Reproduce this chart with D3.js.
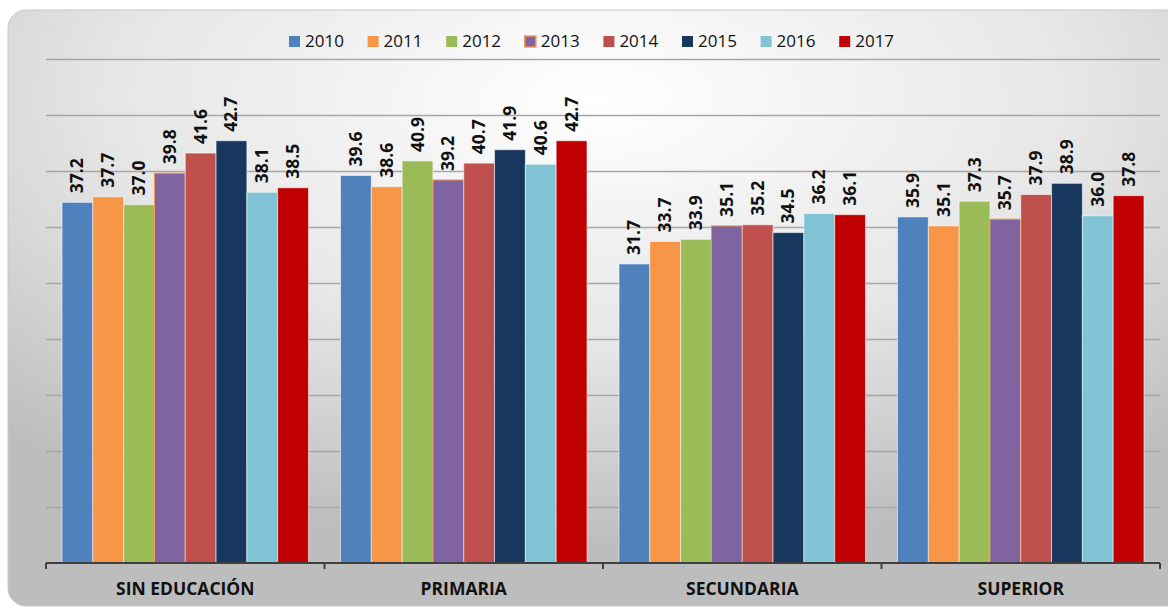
<!DOCTYPE html>
<html>
<head>
<meta charset="utf-8">
<script src="https://cdnjs.cloudflare.com/ajax/libs/d3/7.8.5/d3.min.js"></script>
<style>
body { margin:0; background:#fff; }
svg { display:block; font-family:"Open Sans", Lato, sans-serif; }
</style>
</head>
<body>
<svg id="chart"></svg>
<script>
var categories = ["SIN EDUCACIÓN","PRIMARIA","SECUNDARIA","SUPERIOR"]
var years = ["2010","2011","2012","2013","2014","2015","2016","2017"]
var colors = ["#4F81BD","#F79646","#9BBB59","#8064A2","#C0504D","#17375E","#7FC3D5","#C00000"]
var sinEducacion = [37.2,37.7,37.0,39.8,41.6,42.7,38.1,38.5]
var primaria = [39.6,38.6,40.9,39.2,40.7,41.9,40.6,42.7]
var secundaria = [31.7,33.7,33.9,35.1,35.2,34.5,36.2,36.1]
var superior = [35.9,35.1,37.3,35.7,37.9,38.9,36.0,37.8]
var yTicks = [5,10,15,20,25,30,35,40,45,50]

var seriesByCat = [sinEducacion,primaria,secundaria,superior]

var width = 1168, height = 614
var margins = {top:59, bottom:51, left:46, right:8}

var svg = d3.select("#chart")
    .attr("width",width)
    .attr("height",height)

// panel background
var defs = svg.append("defs")
var grad = defs.append("radialGradient")
    .attr("id","bg")
    .attr("cx","50%").attr("cy","15%").attr("r","75%")
grad.append("stop").attr("offset","0%").attr("stop-color","#ffffff")
grad.append("stop").attr("offset","55%").attr("stop-color","#e6e6e6")
grad.append("stop").attr("offset","100%").attr("stop-color","#bdbdbd")

svg.append("rect")
    .attr("x",8).attr("y",10)
    .attr("width",1180).attr("height",596)
    .attr("rx",18).attr("ry",18)
    .attr("fill","url(#bg)")
    .attr("stroke","#c8c8c8")

var xScale = d3.scaleBand()
    .domain(categories)
    .range([margins.left,width-margins.right])

var yScale = d3.scaleLinear()
    .domain([5,50])
    .range([height-margins.bottom,margins.top])

var inner = d3.scaleBand()
    .domain(years)
    .range([0,xScale.bandwidth()])
    .paddingOuter(0.52)

// gridlines
svg.append("g")
    .selectAll("line")
    .data(yTicks.slice(1))
    .enter()
    .append("line")
    .attr("x1",margins.left)
    .attr("x2",width-margins.right)
    .attr("y1",function(d){return yScale(d)+0.5})
    .attr("y2",function(d){return yScale(d)+0.5})
    .attr("stroke","#a6a6a6")
    .attr("stroke-width",1.5)

// bars
var groups = svg.append("g")
    .selectAll("g")
    .data(categories)
    .enter()
    .append("g")
    .attr("transform",function(c){return "translate("+xScale(c)+",0)"})

groups.selectAll("rect")
    .data(function(c,i){
        return seriesByCat[i].map(function(v,j){return {year:years[j],value:v,color:colors[j]}})
    })
    .enter()
    .append("rect")
    .attr("x",function(d){return inner(d.year)})
    .attr("width",inner.bandwidth())
    .attr("y",function(d){return yScale(d.value)})
    .attr("height",function(d){return yScale(5)-yScale(d.value)})
    .attr("fill",function(d){return d.color})
    .attr("stroke",function(d){return d.year=="2013" ? "#F79646" : "rgba(255,255,255,0.55)"})
    .attr("stroke-width",1)

groups.selectAll("text")
    .data(function(c,i){
        return seriesByCat[i].map(function(v,j){return {year:years[j],value:v}})
    })
    .enter()
    .append("text")
    .attr("transform",function(d){
        var x = inner(d.year)+inner.bandwidth()/2+6
        var y = yScale(d.value)-9
        return "translate("+x+","+y+") rotate(-90)"
    })
    .attr("font-size",17.5)
    .attr("font-weight","bold")
    .attr("fill","#111")
    .text(function(d){return d.value.toFixed(1)})

// x axis
var xAxis = d3.axisBottom(xScale).tickSize(0).tickPadding(20)
var axisG = svg.append("g")
    .attr("transform","translate(0,"+(height-margins.bottom)+")")
    .call(xAxis)
axisG.select(".domain").remove()
axisG.append("line")
    .attr("x1",margins.left).attr("x2",width-margins.right)
    .attr("y1",0).attr("y2",0)
    .attr("stroke","#404040").attr("stroke-width",2)
axisG.selectAll(".sep")
    .data(categories.concat(["end"]))
    .enter()
    .append("line")
    .attr("x1",function(c){return c=="end" ? width-margins.right : xScale(c)})
    .attr("x2",function(c){return c=="end" ? width-margins.right : xScale(c)})
    .attr("y1",0).attr("y2",6)
    .attr("stroke","#404040").attr("stroke-width",2)
axisG.selectAll(".tick text")
    .attr("font-size",17.5)
    .attr("font-weight","bold")
    .attr("fill","#111")
    .attr("font-family","'Open Sans', sans-serif")

// legend
var legend = svg.append("g")
    .attr("transform","translate(289,41)")
var items = legend.selectAll("g")
    .data(years)
    .enter()
    .append("g")
    .attr("transform",function(d,i){return "translate("+(i*78.6)+",0)"})
items.append("rect")
    .attr("x",0).attr("y",-5)
    .attr("width",11).attr("height",11)
    .attr("fill",function(d,i){return colors[i]})
    .attr("stroke",function(d){return d=="2013" ? "#F79646" : "none"})
    .attr("stroke-width",1.5)
items.append("text")
    .attr("x",16).attr("y",6)
    .attr("font-size",17)
    .attr("fill","#111")
    .text(function(d){return d})
</script>
</body>
</html>
